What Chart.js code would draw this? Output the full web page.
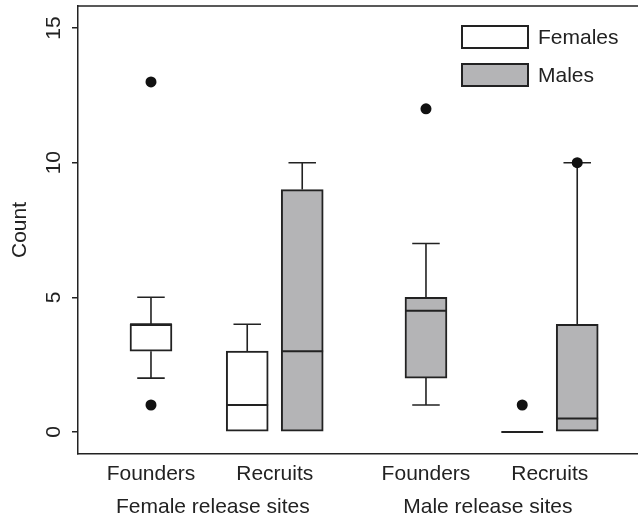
<!DOCTYPE html>
<html>
<head>
<meta charset="utf-8">
<script src="https://cdn.jsdelivr.net/npm/chart.js@4.4.1/dist/chart.umd.min.js"></script>
<style>
  html, body { margin: 0; padding: 0; background: #ffffff; }
  #wrap { width: 638px; height: 518px; position: relative; }
</style>
</head>
<body>
<div id="wrap"><canvas id="c"></canvas></div>
<script>
// ---- data ----
const tickLabels = ['Founders', 'Recruits', 'Founders', 'Recruits'];
const tickPositions = [1, 3.25, 6, 8.25];
const groupLabels = ['Female release sites', 'Male release sites'];
const groupPositions = [2.125, 7.125];
const yTicks = [0, 5, 10, 15];

// Females boxes: Founders (female sites), Recruits (female sites), Recruits (male sites)
const femalePositions = [1, 2.75, 7.75];
const femaleLow    = [2, 0, 0];
const femaleQ1     = [3, 0, 0];
const femaleMedian = [4, 1, 0];
const femaleQ3     = [4, 3, 0];
const femaleHigh   = [5, 4, 0];
const femaleOutX   = [1, 1, 7.75];
const femaleOutY   = [13, 1, 1];

// Males boxes: Recruits (female sites), Founders (male sites), Recruits (male sites)
const malePositions = [3.75, 6, 8.75];
const maleLow    = [0, 1, 0];
const maleQ1     = [0, 2, 0];
const maleMedian = [3, 4.5, 0.5];
const maleQ3     = [9, 5, 4];
const maleHigh   = [10, 7, 10];
const maleOutX   = [6, 8.75];
const maleOutY   = [12, 10];

const seriesNames = ['Females', 'Males'];

// ---- styles ----
const FONT = '"Liberation Sans", Arial, Helvetica, sans-serif';
const INK = '#222222';
const FEMALE_FILL = '#ffffff';
const MALE_FILL = '#b4b4b6';
const BOX_WIDTH = 0.76;   // in x-units
const CAP_WIDTH = 0.5;    // in x-units

const boxSets = [
  { pos: femalePositions, low: femaleLow, q1: femaleQ1, med: femaleMedian, q3: femaleQ3, high: femaleHigh },
  { pos: malePositions, low: maleLow, q1: maleQ1, med: maleMedian, q3: maleQ3, high: maleHigh }
];

const boxPlugin = {
  id: 'boxExtras',
  beforeDatasetsDraw(chart) {
    const { ctx, scales: { x, y } } = chart;
    ctx.save();
    ctx.strokeStyle = INK;
    ctx.lineWidth = 1.6;
    ctx.lineCap = 'butt';
    boxSets.forEach(s => {
      s.pos.forEach((p, i) => {
        const px = x.getPixelForValue(p);
        const capL = x.getPixelForValue(p - CAP_WIDTH / 2);
        const capR = x.getPixelForValue(p + CAP_WIDTH / 2);
        if (s.high[i] > s.q3[i]) {
          ctx.beginPath();
          ctx.moveTo(px, y.getPixelForValue(s.q3[i]));
          ctx.lineTo(px, y.getPixelForValue(s.high[i]));
          ctx.moveTo(capL, y.getPixelForValue(s.high[i]));
          ctx.lineTo(capR, y.getPixelForValue(s.high[i]));
          ctx.stroke();
        }
        if (s.low[i] < s.q1[i]) {
          ctx.beginPath();
          ctx.moveTo(px, y.getPixelForValue(s.q1[i]));
          ctx.lineTo(px, y.getPixelForValue(s.low[i]));
          ctx.moveTo(capL, y.getPixelForValue(s.low[i]));
          ctx.lineTo(capR, y.getPixelForValue(s.low[i]));
          ctx.stroke();
        }
      });
    });
    ctx.restore();
  },
  afterDatasetsDraw(chart) {
    const { ctx, scales: { x, y }, chartArea } = chart;
    ctx.save();
    ctx.strokeStyle = INK;
    ctx.lineWidth = 2;
    boxSets.forEach(s => {
      s.pos.forEach((p, i) => {
        const l = x.getPixelForValue(p - BOX_WIDTH / 2);
        const r = x.getPixelForValue(p + BOX_WIDTH / 2);
        const py = y.getPixelForValue(s.med[i]);
        ctx.beginPath();
        ctx.moveTo(l, py);
        ctx.lineTo(r, py);
        ctx.stroke();
      });
    });
    ctx.lineWidth = 1.5;
    ctx.beginPath();
    ctx.moveTo(chartArea.left, chartArea.top);
    ctx.lineTo(chartArea.right, chartArea.top);
    ctx.stroke();

    const fills = [FEMALE_FILL, MALE_FILL];
    const bw = 66, bh = 22, gap = 16;
    const bx = chartArea.right - 176;
    let by = chartArea.top + 20;
    ctx.font = '21px ' + FONT;
    ctx.textBaseline = 'middle';
    ctx.textAlign = 'left';
    seriesNames.forEach((name, i) => {
      ctx.fillStyle = fills[i];
      ctx.fillRect(bx, by, bw, bh);
      ctx.lineWidth = 2;
      ctx.strokeStyle = INK;
      ctx.strokeRect(bx, by, bw, bh);
      ctx.fillStyle = INK;
      ctx.fillText(name, bx + bw + 10, by + bh / 2 + 1);
      by += bh + gap;
    });
    ctx.restore();
  }
};

const xMin = -0.327, xMax = 9.855;
const noPad = s => { s.paddingTop = 0; s.paddingBottom = 0; s.paddingLeft = 0; s.paddingRight = 0; };

new Chart(document.getElementById('c'), {
  type: 'bar',
  data: {
    datasets: [
      {
        label: seriesNames[0],
        data: femalePositions.map((p, i) => ({ x: p, y: [femaleQ1[i], femaleQ3[i]] })),
        backgroundColor: FEMALE_FILL,
        borderColor: INK,
        borderWidth: 2,
        borderSkipped: false,
        barThickness: 42,
        grouped: false,
        order: 2
      },
      {
        label: seriesNames[1],
        data: malePositions.map((p, i) => ({ x: p, y: [maleQ1[i], maleQ3[i]] })),
        backgroundColor: MALE_FILL,
        borderColor: INK,
        borderWidth: 2,
        borderSkipped: false,
        barThickness: 42,
        grouped: false,
        order: 2
      },
      {
        type: 'scatter',
        label: 'Female outliers',
        data: femaleOutX.map((p, i) => ({ x: p, y: femaleOutY[i] })),
        pointRadius: 5.5,
        pointBackgroundColor: '#111111',
        pointBorderWidth: 0,
        order: 1
      },
      {
        type: 'scatter',
        label: 'Male outliers',
        data: maleOutX.map((p, i) => ({ x: p, y: maleOutY[i] })),
        pointRadius: 5.5,
        pointBackgroundColor: '#111111',
        pointBorderWidth: 0,
        order: 1
      }
    ]
  },
  options: {
    responsive: true,
    maintainAspectRatio: false,
    animation: false,
    layout: { autoPadding: false, padding: { top: 6, right: 0, left: 0, bottom: 0 } },
    plugins: { legend: { display: false }, tooltip: { enabled: false } },
    scales: {
      x: {
        type: 'linear',
        position: 'bottom',
        offset: false,
        weight: 0,
        min: xMin, max: xMax,
        afterBuildTicks: s => { s.ticks = tickPositions.map(v => ({ value: v })); },
        afterFit: s => { s.height = 36; noPad(s); },
        grid: { display: false, drawTicks: false, offset: false },
        border: { display: true, color: INK, width: 1.5 },
        ticks: {
          autoSkip: false, maxRotation: 0, minRotation: 0, padding: 8,
          color: INK, font: { family: FONT, size: 21 },
          callback: (v, i) => tickLabels[i]
        }
      },
      x2: {
        type: 'linear',
        position: 'bottom',
        offset: false,
        weight: 1,
        min: xMin, max: xMax,
        afterBuildTicks: s => { s.ticks = groupPositions.map(v => ({ value: v })); },
        afterFit: s => { s.height = 28; noPad(s); },
        grid: { display: false, drawTicks: false, offset: false },
        border: { display: false },
        ticks: {
          autoSkip: false, maxRotation: 0, minRotation: 0, padding: 5,
          color: INK, font: { family: FONT, size: 21 },
          callback: (v, i) => groupLabels[i]
        }
      },
      y: {
        type: 'linear',
        position: 'left',
        min: -0.82, max: 15.82,
        afterBuildTicks: s => { s.ticks = yTicks.map(v => ({ value: v })); },
        afterFit: s => { s.width = 78; noPad(s); },
        grid: { drawOnChartArea: false, drawTicks: true, tickLength: 6, color: INK, lineWidth: 1.5 },
        border: { display: true, color: INK, width: 1.5 },
        ticks: {
          minRotation: 90, maxRotation: 90, crossAlign: 'center', padding: 6,
          color: INK, font: { family: FONT, size: 21 }
        },
        title: {
          display: true, text: 'Count', color: INK,
          font: { family: FONT, size: 21 },
          padding: { top: 8, bottom: 0 }
        }
      }
    }
  },
  plugins: [boxPlugin]
});
</script>
</body>
</html>
